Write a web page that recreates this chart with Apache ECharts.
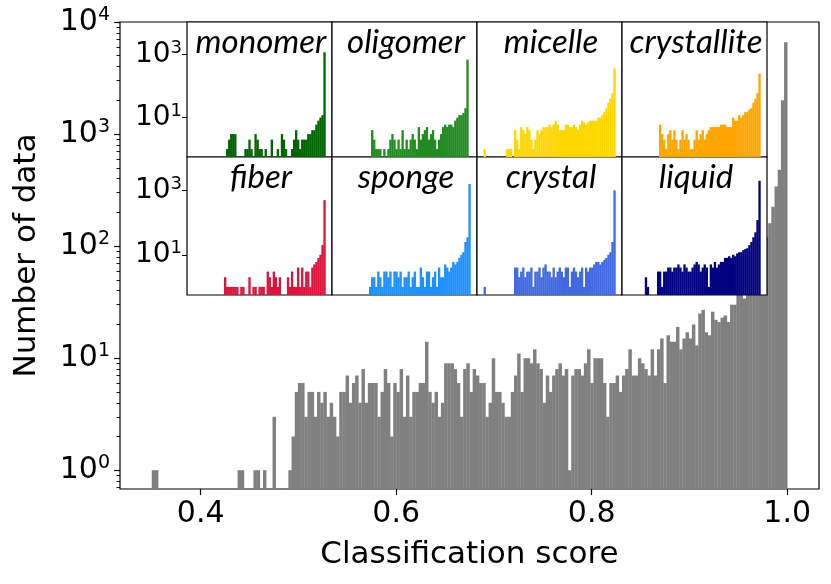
<!DOCTYPE html>
<html><head><meta charset="utf-8">
<script src="https://cdn.jsdelivr.net/npm/echarts@6/dist/echarts.min.js"></script>
<style>html,body{margin:0;padding:0;background:#fff}#c{width:831px;height:584px}</style>
</head><body><div id="c"></div>
<script>
// ---- data ----
var mainStart = 0.35, mainWidth = 0.00325;
var mainEarly = {0:1, 1:1, 27:1, 28:1, 32:1, 33:1, 35:1, 38:3};
var mainA = [1,2,5,6,6,3,5,5,3,5, 4,5,3,4,3,2,5,5,7,4, 6,7,4,8,4,6,6,6,3,5, 8,6,2,6,5,8,3,7,3,5,
  5,6,6,14,5,4,5,3,4,9, 9,9,8,6,3,8,9,5,8,7, 6,6,3,4,10,5,5,4,3,3, 5,7,11,5,10,10,9];
var mainB = [12,9,8,4,7,5,7,8,9,7, 8,1,7,8,8,7,9,12,6,10, 10,10,6,3,6,6,7,5,7,8, 12,7,7,10,9,8,7,12,7,12,
  15,6,16,14,14,19,12,15,17,15, 20,13,25,27,17,16,26,22,21,23, 24,21,30,30,38,38,34,50,60,67,
  86,84,98,120,160,225,340,480,2000,6600];
var insetStart = 0.35, insetWidth = 0.01;
var insetNames = ['monomer','oligomer','micelle','crystallite','fiber','sponge','crystal','liquid'];
var insetColors = ['#006400','#228B22','#FFD700','#FFA500','#DC143C','#1E90FF','#4169E1','#000080'];
var monomer = [1,2,3,3,3,0,0,0,0,1,1,2,1,0,3,2,1,1,0,1,0,0,2,0,0,1,0,3,2,1,0,0,1,2,4,2,1,2,2,2,3,3,4,4,6,8,10,12,1200];
var oligomer = [0,4,2,1,1,1,0,1,0,1,2,3,2,1,2,1,4,1,2,1,2,3,2,1,5,2,3,4,5,2,3,4,2,1,2,3,5,6,5,6,6,5,8,10,12,12,14,20,700];
var micelle = [4,2,1,5,4,3,5,4,2,1,2,4,3,4,5,5,5,6,5,6,8,6,4,4,4,6,6,5,5,6,5,4,6,8,7,6,7,8,8,8,8,10,10,12,15,20,30,40,60,370];
var crystallite = [6,3,2,1,3,4,2,4,2,1,2,4,2,3,2,1,1,2,4,2,3,4,2,3,4,5,5,5,5,5,6,6,6,5,5,5,10,8,8,12,10,12,15,15,18,20,30,40,60,250];
var fiber = [2,1,1,1,1,1,1,0,1,1,0,0,2,0,1,1,0,1,1,1,0,3,2,1,3,2,1,2,0,0,0,2,1,3,1,1,4,1,4,1,3,3,1,4,5,6,8,10,20,500];
var sponge = [1,2,2,1,3,2,1,3,3,2,3,1,3,3,2,3,1,2,2,3,1,2,3,1,1,4,2,1,3,3,1,2,3,1,4,2,2,5,4,3,4,6,5,6,8,10,12,25,35,1600];
var crystal = [4,4,2,3,4,2,3,3,4,1,3,3,4,2,4,5,3,3,2,4,2,3,4,3,2,4,4,1,3,4,3,2,3,4,1,4,3,4,4,5,6,6,5,6,7,8,10,12,25,1000];
var liquid = [3,1,3,3,4,4,3,4,4,5,4,3,5,4,3,3,4,5,6,5,3,4,5,4,1,5,4,6,4,5,6,6,8,8,9,8,10,9,11,12,12,14,15,16,20,25,35,50,120,2000];
var insetEarly = [{}, {}, {0:1, 11:1, 12:1, 13:1}, {}, {}, {}, {0:1}, {8:2, 9:1, 14:3}];
var insetLate = [monomer, oligomer, micelle, crystallite, fiber, sponge, crystal, liquid];
var insetLateStart = [16, 15, 15, 15, 15, 15, 15, 15];
var xTicks = [0.4, 0.6, 0.8, 1.0];
var yTicks = [1, 10, 100, 1000, 10000];
var insetYTicks = [10, 1000];

// ---- build ----
function mainCounts() {
  var c = new Array(200).fill(0);
  Object.keys(mainEarly).forEach(function (k) { c[+k] = mainEarly[k]; });
  mainA.forEach(function (v, i) { c[43 + i] = v; });
  mainB.forEach(function (v, i) { c[120 + i] = v; });
  return c;
}
function toData(counts, start, w) {
  var d = [];
  counts.forEach(function (v, i) { if (v > 0) d.push([start + i * w, start + (i + 1) * w, v]); });
  return d;
}
function rItem(ymin, color) {
  return function (params, api) {
    var p0 = api.coord([api.value(0), api.value(2)]);
    var p1 = api.coord([api.value(1), ymin]);
    return { type: 'rect', shape: { x: p0[0], y: p0[1], width: p1[0] - p0[0] + 0.3, height: p1[1] - p0[1] },
      style: { fill: color } };
  };
}
var XMIN = 0.3175, XMAX = 1.0325, YMIN = 0.68, YMAX = 10000, IYMIN = 0.56, IYMAX = 11000;
function supRich(b, s, pad) {
  return { b: { fontSize: b, color: '#000', fontFamily: 'DejaVu Sans' }, s: { fontSize: s, color: '#000', fontFamily: 'DejaVu Sans', verticalAlign: 'top', padding: [0, 0, pad, 0] } };
}
function logFmt(v) { return '{b|10}{s|' + Math.round(Math.log10(v)) + '}'; }

var grids = [{ left: 120, top: 22, width: 699, height: 467, show: true, borderColor: '#000', borderWidth: 1.2, z: 0 }];
var xAxes = [{ type: 'value', gridIndex: 0, min: XMIN, max: XMAX, splitLine: { show: false },
  axisLine: { show: false }, axisTick: { show: true, customValues: xTicks, length: 6, lineStyle: { color: '#000', width: 1.2 } },
  axisLabel: { customValues: xTicks, formatter: function (v) { return v.toFixed(1); }, fontSize: 30, color: '#000', fontFamily: 'DejaVu Sans', margin: 10 },
  name: 'Classification score', nameLocation: 'middle', nameGap: 50, nameTextStyle: { fontSize: 31, color: '#000', fontFamily: 'DejaVu Sans' } }];
var minor = [];
[0.1, 1, 10, 100, 1000].forEach(function (d) { for (var k = 2; k <= 9; k++) { var v = d * k; if (v > YMIN && v < YMAX) minor.push(v); } });
var yAxes = [{ type: 'log', gridIndex: 0, min: YMIN, max: YMAX, splitLine: { show: false }, axisLine: { show: false },
  axisTick: { show: true, customValues: yTicks, length: 6, lineStyle: { color: '#000', width: 1.2 } },
  axisLabel: { customValues: yTicks, formatter: logFmt, rich: supRich(30, 19, 14), margin: 10 },
  name: 'Number of data', nameLocation: 'middle', nameGap: 78, nameTextStyle: { fontSize: 31, color: '#000', fontFamily: 'DejaVu Sans' } },
  { type: 'log', gridIndex: 0, min: YMIN, max: YMAX, position: 'left', splitLine: { show: false }, axisLine: { show: false },
    axisTick: { show: true, customValues: minor, length: 3.5, lineStyle: { color: '#000', width: 0.9 } }, axisLabel: { show: false } }];
var series = [{ type: 'custom', xAxisIndex: 0, yAxisIndex: 0, z: 1, renderItem: rItem(YMIN, '#808080'), clip: true,
  data: toData(mainCounts(), mainStart, mainWidth) }];
var colL = [187, 332, 477, 622], rowT = [22, 157], rowH = [135, 138];
var graphics = [];
insetNames.forEach(function (name, k) {
  var col = k % 4, row = Math.floor(k / 4);
  var gi = k + 1;
  grids.push({ left: colL[col], top: rowT[row], width: 145, height: rowH[row], show: true, backgroundColor: '#fff', borderColor: '#000', borderWidth: 1.2, z: 3 });
  xAxes.push({ type: 'value', gridIndex: gi, min: XMIN, max: XMAX, show: false });
  yAxes.push({ type: 'log', gridIndex: gi, min: IYMIN, max: IYMAX, z: 6, splitLine: { show: false }, axisLine: { show: false },
    axisTick: { show: col === 0, customValues: insetYTicks, length: 5, lineStyle: { color: '#000' } },
    axisLabel: { show: col === 0, customValues: insetYTicks, formatter: logFmt, rich: supRich(28, 18, 12), margin: 5 } });
  var counts = new Array(65).fill(0);
  Object.keys(insetEarly[k]).forEach(function (j) { counts[+j] = insetEarly[k][j]; });
  insetLate[k].forEach(function (v, i) { counts[insetLateStart[k] + i] = v; });
  series.push({ type: 'custom', xAxisIndex: gi, yAxisIndex: yAxes.length - 1, z: 4, clip: true,
    renderItem: rItem(IYMIN, insetColors[k]), data: toData(counts, insetStart, insetWidth) });
  graphics.push({ type: 'text', x: colL[col] + 74, y: rowT[row] + 4, z: 100,
    style: { text: name, font: 'italic 33px Lato', fill: '#000', textAlign: 'center', textVerticalAlign: 'top' } });
});
var chart = echarts.init(document.getElementById('c'), null, { renderer: 'canvas' });
chart.setOption({ animation: false, backgroundColor: '#fff', grid: grids, xAxis: xAxes, yAxis: yAxes, series: series, graphic: graphics });
</script></body></html>
